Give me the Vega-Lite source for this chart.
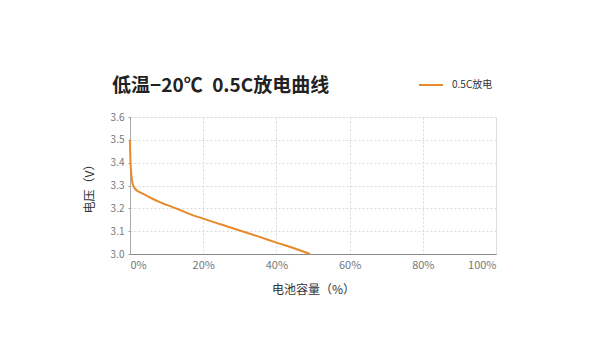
{
  "$schema": "https://vega.github.io/schema/vega-lite/v6.json",
  "autosize": "none",
  "padding": {"left": 130, "top": 117, "right": 94, "bottom": 106},
  "width": 366,
  "height": 137,
  "background": "white",
  "title": {
    "text": "低温−20℃\u20020.5C放电曲线",
    "anchor": "start",
    "frame": "group",
    "dx": -18,
    "dy": 44,
    "offset": 20,
    "fontSize": 19,
    "fontWeight": "bold",
    "font": "Noto Sans CJK SC",
    "color": "#222222"
  },
  "data": {
    "values": [
      {"cap": 0, "v": 3.5, "s": "0.5C放电"},
      {"cap": 0.05, "v": 3.45, "s": "0.5C放电"},
      {"cap": 0.15, "v": 3.4, "s": "0.5C放电"},
      {"cap": 0.35, "v": 3.35, "s": "0.5C放电"},
      {"cap": 0.7, "v": 3.31, "s": "0.5C放电"},
      {"cap": 1.4, "v": 3.285, "s": "0.5C放电"},
      {"cap": 2.5, "v": 3.272, "s": "0.5C放电"},
      {"cap": 4, "v": 3.26, "s": "0.5C放电"},
      {"cap": 6, "v": 3.243, "s": "0.5C放电"},
      {"cap": 8, "v": 3.228, "s": "0.5C放电"},
      {"cap": 10, "v": 3.215, "s": "0.5C放电"},
      {"cap": 13, "v": 3.197, "s": "0.5C放电"},
      {"cap": 16, "v": 3.177, "s": "0.5C放电"},
      {"cap": 20, "v": 3.155, "s": "0.5C放电"},
      {"cap": 25, "v": 3.129, "s": "0.5C放电"},
      {"cap": 30, "v": 3.103, "s": "0.5C放电"},
      {"cap": 35, "v": 3.077, "s": "0.5C放电"},
      {"cap": 40, "v": 3.05, "s": "0.5C放电"},
      {"cap": 45, "v": 3.024, "s": "0.5C放电"},
      {"cap": 49.2, "v": 3.0, "s": "0.5C放电"}
    ]
  },
  "mark": {"type": "line", "strokeWidth": 2, "interpolate": "monotone"},
  "encoding": {
    "x": {
      "field": "cap",
      "type": "quantitative",
      "scale": {"domain": [0, 100], "nice": false},
      "axis": {
        "title": "电池容量（%）",
        "titleFont": "Noto Sans CJK SC",
        "titleFontSize": 12,
        "titleFontWeight": "normal",
        "titleColor": "#333333",
        "titlePadding": 14,
        "values": [0, 20, 40, 60, 80, 100],
        "gridValues": [10, 20, 30, 40, 50, 60, 70, 80, 90, 100],
        "labelExpr": "datum.value + '%'",
        "labelFont": "Noto Sans CJK SC",
        "labelFontSize": 11,
        "labelColor": "#777777",
        "labelPadding": 5,
        "ticks": false,
        "domainColor": "#888888",
        "domainWidth": 1,
        "gridColor": "#d9d9d9",
        "gridDash": [2, 2],
        "gridWidth": 1
      }
    },
    "y": {
      "field": "v",
      "type": "quantitative",
      "scale": {"domain": [3.0, 3.6], "nice": false, "zero": false},
      "axis": {
        "title": "电压（V）",
        "titleFont": "Noto Sans CJK SC",
        "titleFontSize": 12,
        "titleFontWeight": "normal",
        "titleColor": "#333333",
        "titlePadding": 14,
        "values": [3.0, 3.1, 3.2, 3.3, 3.4, 3.5, 3.6],
        "format": ".1f",
        "labelFont": "Noto Sans CJK SC",
        "labelFontSize": 10,
        "labelColor": "#777777",
        "labelPadding": 4,
        "ticks": true,
        "tickSize": 2,
        "tickColor": "#999999",
        "domainColor": "#aaaaaa",
        "gridColor": "#d9d9d9",
        "gridDash": [2, 2],
        "gridWidth": 1
      }
    },
    "color": {
      "field": "s",
      "type": "nominal",
      "scale": {"range": ["#E8892B"]},
      "legend": {
        "title": null,
        "orient": "none",
        "legendX": 288,
        "legendY": -45,
        "symbolType": "stroke",
        "symbolSize": 576,
        "symbolStrokeWidth": 2,
        "labelFont": "Noto Sans CJK SC",
        "labelFontSize": 10,
        "labelColor": "#333333",
        "labelOffset": 8
      }
    }
  },
  "config": {
    "view": {"stroke": "#d9d9d9", "strokeDash": [2, 2]}
  }
}
